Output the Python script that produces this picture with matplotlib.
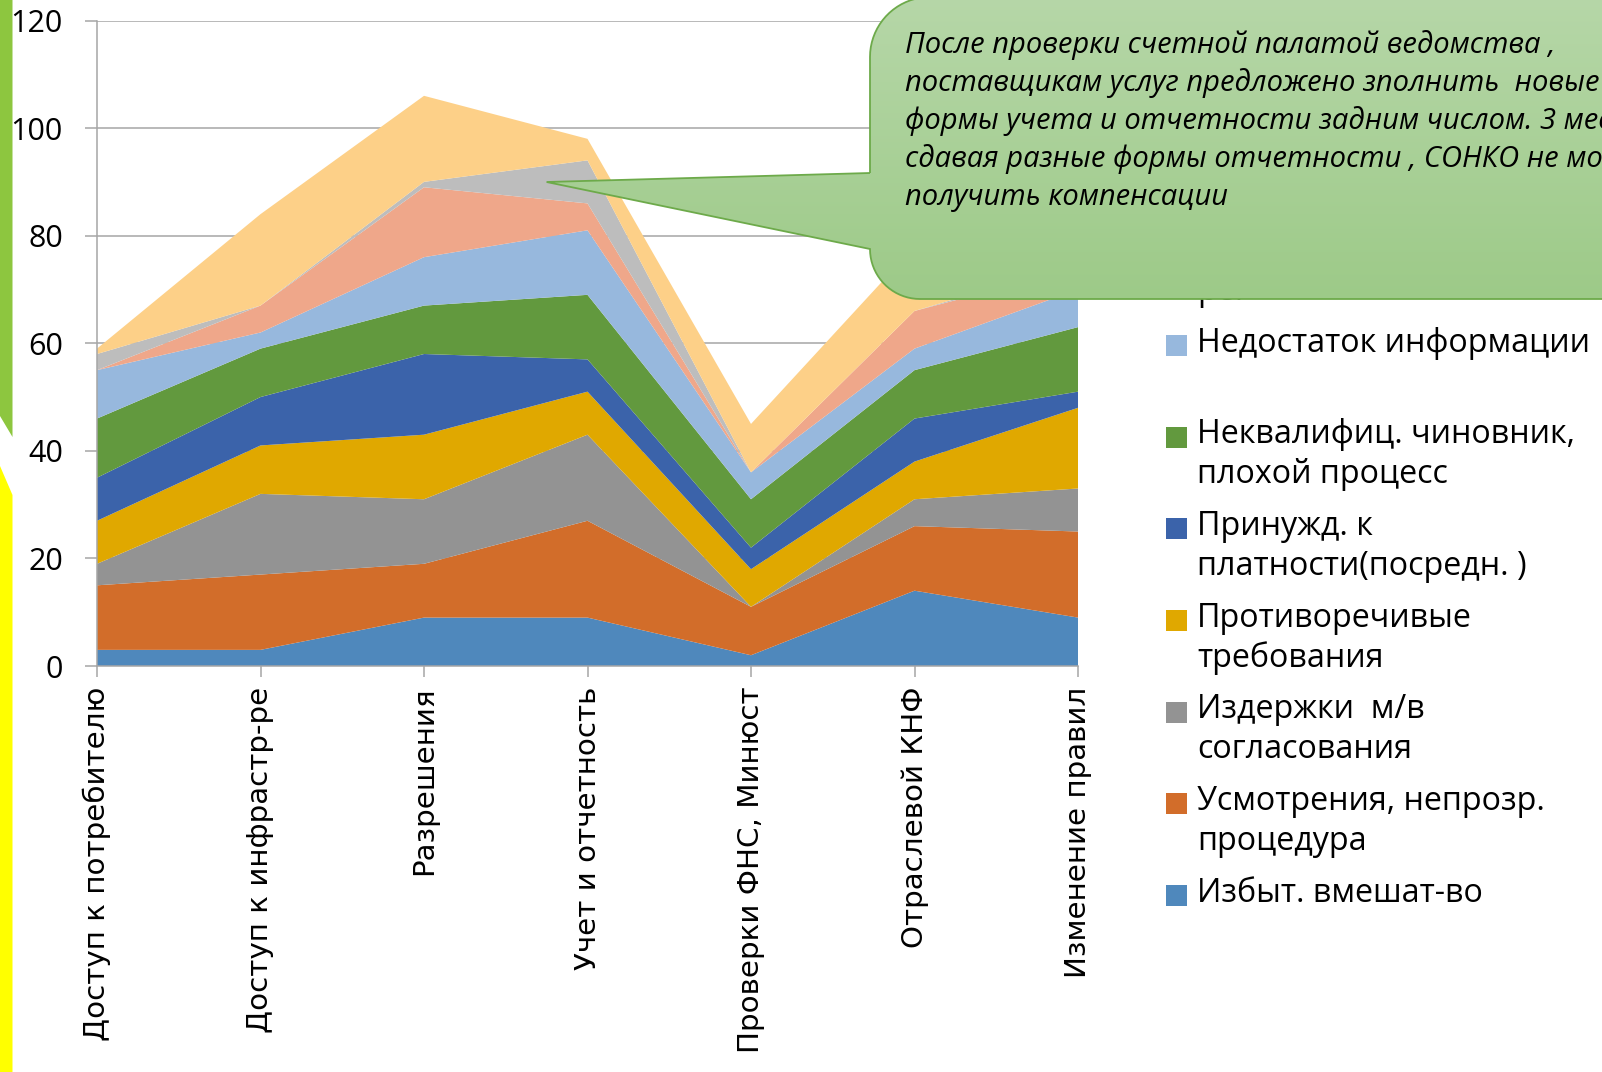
import numpy as np
import matplotlib
matplotlib.use('Agg')
import matplotlib.pyplot as plt
from matplotlib.patches import Polygon, Rectangle
from matplotlib.colors import LinearSegmentedColormap

# категории (ось X)
categories = ['Доступ к потребителю', 'Доступ к инфрастр-ре', 'Разрешения',
              'Учет и отчетность', 'Проверки ФНС, Минюст', 'Отраслевой КНФ',
              'Изменение правил']

# ряды снизу вверх
izbyt = [3, 3, 9, 9, 2, 14, 9]
usmotr = [12, 14, 10, 18, 9, 12, 16]
izderzh = [4, 15, 12, 16, 0, 5, 8]
protivor = [8, 9, 12, 8, 7, 7, 15]
prinuzhd = [8, 9, 15, 6, 4, 8, 3]
nekval = [11, 9, 9, 12, 9, 9, 12]
nedost = [9, 3, 9, 12, 5, 4, 7]
infra = [0, 5, 13, 5, 0, 7, 4]
pravila = [3, 0, 1, 8, 0, 0, 1]
prochee = [1, 17, 16, 4, 9, 12, 6]

series = [izbyt, usmotr, izderzh, protivor, prinuzhd, nekval, nedost, infra, pravila, prochee]
labels = ['Избыт. вмешат-во',
          'Усмотрения, непрозр.\nпроцедура',
          'Издержки  м/в\nсогласования',
          'Противоречивые\nтребования',
          'Принужд. к\nплатности(посредн. )',
          'Неквалифиц. чиновник,\nплохой процесс',
          'Недостаток информации',
          'Монополия инфрастр-\nре.',
          'Нестабильность правил',
          'Прочие барьеры']
colors = ['#4F88BC', '#D26D2A', '#939393', '#E0A800', '#3B63AA',
          '#62993E', '#97B8DD', '#EFA78A', '#BDBDBD', '#FDD088']

yticks = [0, 20, 40, 60, 80, 100, 120]

callout_lines = ['После проверки счетной палатой ведомства ,',
                 'поставщикам услуг предложено зполнить  новые',
                 'формы учета и отчетности задним числом. 3 месяца',
                 'сдавая разные формы отчетности , СОНКО не могли',
                 'получить компенсации']

W, H = 1602, 1072
fig = plt.figure(figsize=(W / 100, H / 100), dpi=100)
fig.patch.set_facecolor('white')

x = np.arange(len(categories))
ax = fig.add_axes([97 / W, (H - 666) / H, (1078 - 97) / W, (666 - 20.5) / H])
ax.stackplot(x, *series, colors=colors, linewidth=0)
ax.set_xlim(0, len(categories) - 1)
ax.set_ylim(0, 120)
ax.set_yticks(yticks)
ax.set_xticks(x)
ax.set_xticklabels(categories, rotation=90, ha='center', va='top',
                   family=['Liberation Sans Narrow', 'DejaVu Sans'], fontsize=21.2)
for t in ax.get_yticklabels():
    t.set_family(['Open Sans', 'DejaVu Sans'])
    t.set_fontsize(22)
ax.set_axisbelow(True)
ax.yaxis.grid(True, color='#A6A6A6', linewidth=1.1)
for s in ['top', 'right']:
    ax.spines[s].set_visible(False)
for s in ['left', 'bottom']:
    ax.spines[s].set_color('#A6A6A6')
    ax.spines[s].set_linewidth(1.1)
ax.tick_params(axis='y', length=8.6, width=1.1, color='#A6A6A6', pad=16)
ax.tick_params(axis='x', length=8, width=1.1, color='#A6A6A6', pad=7)

# слой поверх графика в пикселях (y вниз)
ov = fig.add_axes([0, 0, 1, 1], zorder=5)
ov.set_xlim(0, W)
ov.set_ylim(H, 0)
ov.axis('off')

# полосы слева
ov.add_patch(Polygon([(0, -2), (12.5, -2), (12.5, 437), (0, 416)], closed=True,
                     facecolor='#8DC63F', edgecolor='none'))
ov.add_patch(Polygon([(0, 466), (12.5, 495), (12.5, H + 2), (0, H + 2)], closed=True,
                     facecolor='#FFFF00', edgecolor='none'))

# легенда (сверху вниз — ряды в обратном порядке)
y0 = 340 - 3 * 91.67
for k, i in enumerate(range(len(series) - 1, -1, -1)):
    yc = y0 + k * 91.67
    ov.add_patch(Rectangle((1166, yc - 5), 21, 21, facecolor=colors[i], edgecolor='none'))
    for j, line in enumerate(labels[i].split('\n')):
        ov.text(1197, yc + j * 40 + 11.5, line, fontsize=23.2, va='baseline', ha='left',
                family=['Open Sans', 'DejaVu Sans'], color='black')

# выноска
L, T, B, R = 870, -3, 299, W + 10
r1, r2 = 60, 50
tip = (546.6, 182)
pts = [(L, 173)]
a = np.linspace(np.pi, 1.5 * np.pi, 20)
pts += [(L + r1 + r1 * np.cos(t), T + r1 + r1 * np.sin(t)) for t in a]
pts += [(R, T), (R, B)]
a = np.linspace(0.5 * np.pi, np.pi, 20)
pts += [(L + r2 + r2 * np.cos(t), B - r2 + r2 * np.sin(t)) for t in a]
pts += [(L, 249), tip]
callout = Polygon(pts, closed=True, facecolor='none', edgecolor='#6DAA4A', linewidth=1.3, zorder=10)
ov.add_patch(callout)
grad = np.linspace(0, 1, 256).reshape(-1, 1)
cmap = LinearSegmentedColormap.from_list('g', ['#B6D7A8', '#9DCA88'])
im = ov.imshow(grad, cmap=cmap, extent=[tip[0] - 2, R, B, T], aspect='auto', origin='upper', zorder=9)
im.set_clip_path(callout)
ov.set_xlim(0, W)
ov.set_ylim(H, 0)

for j, line in enumerate(callout_lines):
    ov.text(905, 45 + j * 38, line, fontsize=21, style='italic', va='center', ha='left',
            family=['Open Sans', 'DejaVu Sans'], color='black', zorder=11)

fig.savefig('out.png', dpi=100)
